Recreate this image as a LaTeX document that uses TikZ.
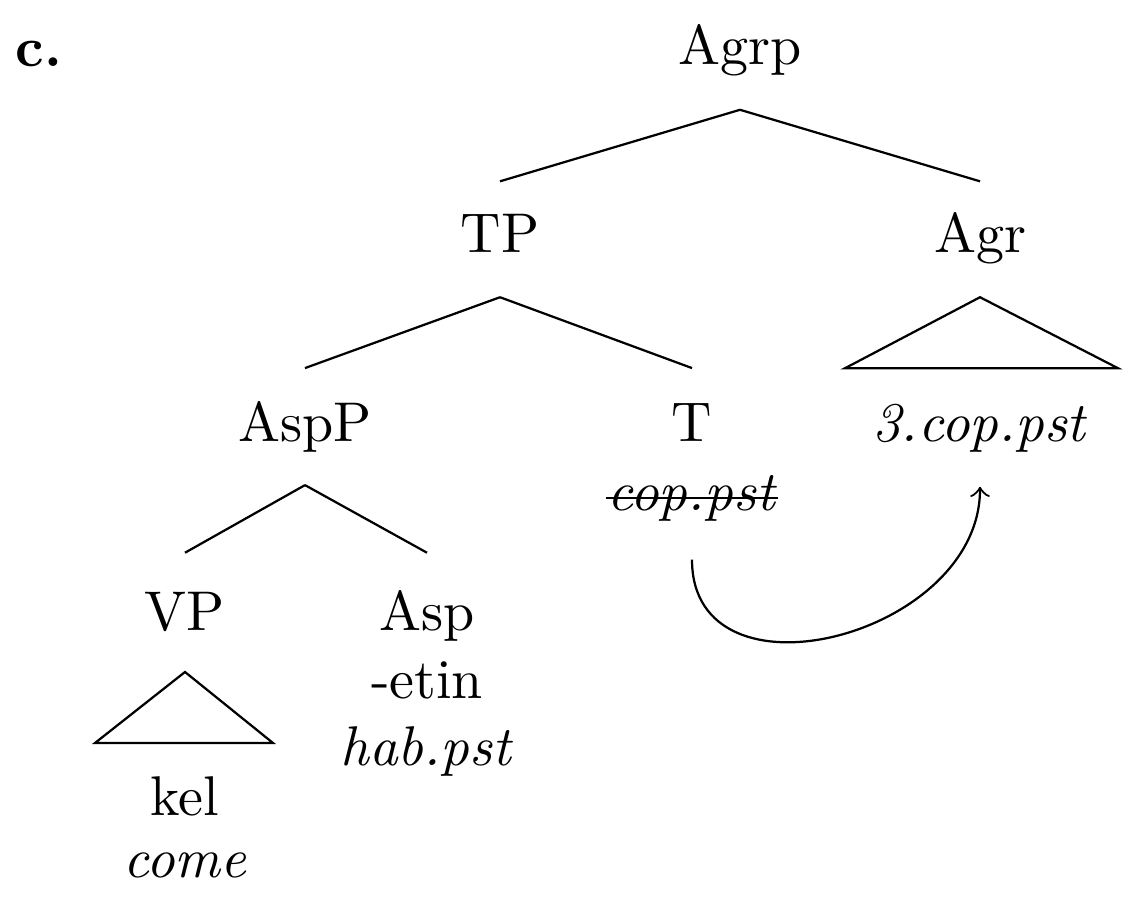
\documentclass[tikz,border=0pt]{standalone}
\usepackage{amsmath}
\usepackage{amssymb}
\usepackage{pgf,tikz}
\usetikzlibrary{arrows}

\begin{document}
\begin{tikzpicture}[x=0.1786pt,y=-0.1786pt,
	lab/.style={anchor=base,inner sep=0pt}]
	\useasboundingbox (0,0) rectangle (1148,920);
	\node[lab] (ex) at (39,67) {\textbf{c.}};
	\node[lab] (agrp) at (740,65) {Agrp};
	\node[lab] (tp) at (500,253) {TP};
	\node[lab] (agr) at (980,253) {Agr};
	\node[lab] (aspp) at (305,442) {AspP};
	\node[lab] (t) at (692,442) {T};
	\node[lab] (tcop) at (692,511) {\textit{cop.pst}};
	\node[lab] (agrcop) at (980,442) {\textit{3.cop.pst}};
	\node[lab] (vp) at (185,630) {VP};
	\node[lab] (asp) at (427,630) {Asp};
	\node[lab] (etin) at (427,698) {-etin};
	\node[lab] (hab) at (427,765) {\textit{hab.pst}};
	\node[lab] (kel) at (185,815) {kel};
	\node[lab] (come) at (185,877) {\textit{come}};
	\draw ([yshift=-8pt]agrp.base)--([yshift=12.8pt]tp.base);
	\draw ([yshift=-8pt]agrp.base)--([yshift=12.8pt]agr.base);
	\draw ([yshift=-7.9pt]tp.base)--([yshift=13.2pt]aspp.base);
	\draw ([yshift=-7.9pt]tp.base)--([yshift=13.2pt]t.base);
	\draw ([yshift=-7.9pt]agr.base)--++(-135,71)--++(273,0)--cycle;
	\draw ([yshift=-7.7pt]aspp.base)--([yshift=13.8pt]vp.base);
	\draw ([yshift=-7.7pt]aspp.base)--([yshift=13.8pt]asp.base);
	\draw ([yshift=-7.5pt]vp.base)--++(-90,71)--++(178,0)--cycle;
	% strike-through
	\draw ([yshift=2.3pt]tcop.base west)--([yshift=2.3pt]tcop.base east);
	\draw[->] ([yshift=-8.7pt]tcop.base) .. controls +(0,150) and +(0,150) .. ([yshift=-8pt]agrcop.base);
\end{tikzpicture}
\end{document}
